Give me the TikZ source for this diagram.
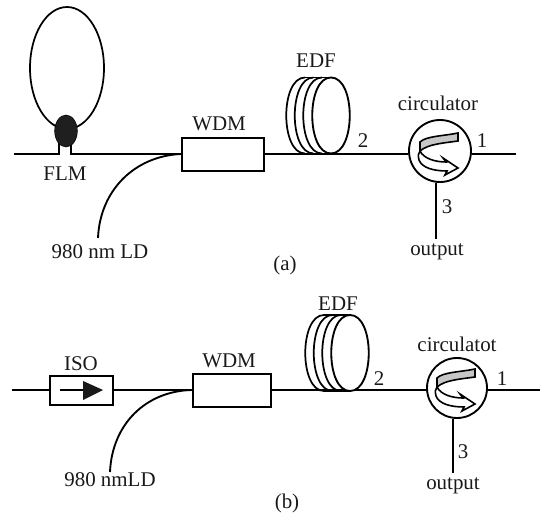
\documentclass[tikz,border=0pt]{standalone}
\usepackage{fontspec}
\setmainfont{Liberation Serif}
\usetikzlibrary{shapes.geometric}
\tikzset{
  fibre/.style={line width=1.4pt,black},
  lbl/.style={inner sep=0pt,font=\fontsize{15.7}{18}\selectfont,text=black!90},
  devbox/.style={draw,line width=1.4pt,rectangle,inner sep=0pt,fill=white},
  ring/.style={draw,line width=1.4pt,circle,inner sep=0pt,fill=white},
  coil/.pic={
    \foreach \d in {-26,-17.5,-9}{
      \draw[line width=1.3pt] (\d,-38) .. controls (\d-25,-38) and (\d-25,38) .. (\d,38);
    }
    \draw[line width=1.3pt] (-26,-38) -- (0,-38);
    \draw[line width=1.3pt] (-26,38) -- (0,38);
    \draw[line width=1.4pt,fill=white] (0,-38) .. controls (25,-38) and (25,38) .. (0,38)
      .. controls (-25,38) and (-25,-38) .. (0,-38) -- cycle;
  },
  circicon/.pic={
    \draw[line width=1.2pt,fill=black!22] (-20,-9) .. controls (-14,-15) and (4,-15) .. (18,-18)
      -- (18,-10) .. controls (4,-8) and (-12,-7) .. (-20,0) -- cycle;
    \draw[line width=1.2pt,fill=white] (-20,0) .. controls (-16,8) and (-4,11) .. (6,11)
      -- (3,7) -- (18,17) -- (5,24) -- (7,20)
      .. controls (-6,20) and (-18,17) .. (-21,9) .. controls (-22,5) and (-22,2) .. (-20,0) -- cycle;
  }
}
\begin{document}
\begin{tikzpicture}[x=0.75pt,y=-0.75pt]
\useasboundingbox (0,0) rectangle (546,516);
% ---------- panel (a)
\coordinate (aL) at (14,154);
\coordinate (aR) at (516,154);
\coordinate (aO) at (436,239);
\coordinate (aP) at (98,238);
\coordinate (legLb) at (59,154);
\coordinate (legRb) at (71,154);
\node[devbox,minimum width=61.5pt,minimum height=24.75pt] (wdmA) at (223,154.5) {};
\node[ring,minimum size=46.5pt] (circA) at (440,151) {};
\node[draw,ellipse,line width=1.3pt,minimum width=55.5pt,minimum height=91.5pt,inner sep=0pt] (loop) at (67,68) {};
\draw[fibre] (aL) -- (legLb) -- (legLb |- 0,135);
\draw[fibre] (legRb |- 0,135) -- (legRb) -- (wdmA.west |- aL);
\node[ellipse,fill=black!88,draw=black,minimum width=17pt,minimum height=24pt,inner sep=0pt] (flm) at (66,131) {};
\draw[fibre] (aP) .. controls (100,190) and (135,156) .. (wdmA.west |- aL);
\draw[fibre] (wdmA.east |- aL) -- (circA.west |- aL);
\draw[fibre] (circA.east |- aR) -- (aR);
\draw[fibre] (aO |- circA.south) -- (aO);
\pic at (331,115.5) {coil};
\pic at (440,151) {circicon};
\node[lbl] (tWdmA) at (219,124) {WDM};
\node[lbl] (tFlm) at (65,174) {FLM};
\node[lbl] (tLdA) at (100,252) {980 nm LD};
\node[lbl] (tA) at (285,265) {(a)};
\node[lbl] (tEdfA) at (316,61) {EDF};
\node[lbl] (t2A) at (363,141) {2};
\node[lbl] (tCircA) at (438,103) {circulator};
\node[lbl] (t1A) at (482,141) {1};
\node[lbl] (t3A) at (447,207) {3};
\node[lbl] (tOutA) at (437,252) {output};
% ---------- panel (b)
\coordinate (bL) at (12,390);
\coordinate (bR) at (540,390);
\coordinate (bO) at (453,473);
\coordinate (bP) at (110,472);
\coordinate (arrS) at (60,390);
\coordinate (arrE) at (84,390);
\node[devbox,minimum width=47.25pt,minimum height=21.75pt] (iso) at (81.5,390.5) {};
\node[devbox,minimum width=58.5pt,minimum height=24.75pt] (wdmB) at (232,390.5) {};
\node[ring,minimum size=45pt] (circB) at (457,388) {};
\draw[fibre] (bL) -- (iso.west |- bL);
\draw[fibre] (iso.east |- bL) -- (wdmB.west |- bL);
\draw[fibre] (arrS) -- (arrE);
\fill[black!90] (83,381) -- (103,390) -- (83,400) -- cycle;
\draw[fibre] (bP) .. controls (112,425) and (145,391) .. (wdmB.west |- bL);
\draw[fibre] (wdmB.east |- bL) -- (circB.west |- bL);
\draw[fibre] (circB.east |- bR) -- (bR);
\draw[fibre] (bO |- circB.south) -- (bO);
\pic at (350,353) {coil};
\pic at (457,387) {circicon};
\node[lbl] (tIso) at (81,364) {ISO};
\node[lbl] (tWdmB) at (229,361) {WDM};
\node[lbl] (tLdB) at (110,480) {980 nmLD};
\node[lbl] (tB) at (287,503) {(b)};
\node[lbl] (tEdfB) at (338,304) {EDF};
\node[lbl] (t2B) at (379,379) {2};
\node[lbl] (tCircB) at (457,344) {circulatot};
\node[lbl] (t1B) at (502,379) {1};
\node[lbl] (t3B) at (463,452) {3};
\node[lbl] (tOutB) at (453,486) {output};
\end{tikzpicture}
\end{document}
